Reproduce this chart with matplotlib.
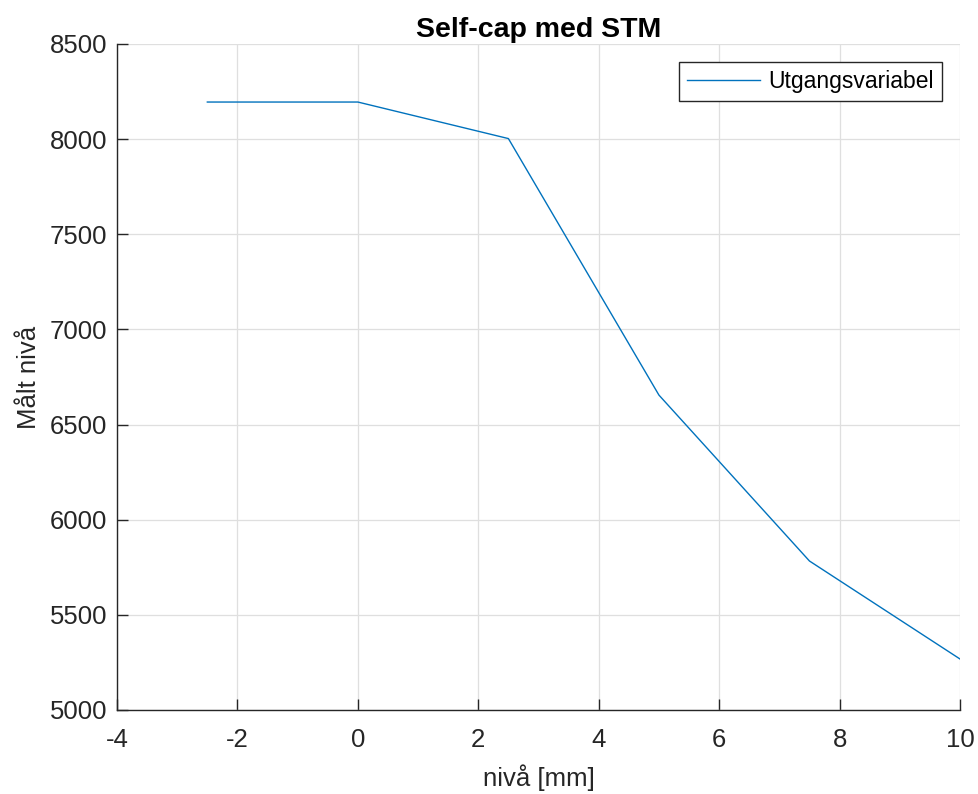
import matplotlib.pyplot as plt

plt.rcParams['font.family'] = ['Liberation Sans', 'DejaVu Sans']

# data
niva_mm = [-2.5, 0, 2.5, 5, 7.5, 10]
malt_niva = [8195, 8195, 8003, 6655, 5783, 5268]
x_ticks = [-4, -2, 0, 2, 4, 6, 8, 10]
y_ticks = [5000, 5500, 6000, 6500, 7000, 7500, 8000, 8500]

ax_col = '#262626'

fig = plt.figure(figsize=(9.79, 7.94), dpi=100)
ax = fig.add_axes([117 / 979, 1 - 710 / 794, (960 - 117) / 979, (710 - 44) / 794])

ax.plot(niva_mm, malt_niva, color='#0072BD', linewidth=1.0, label='Utgangsvariabel')

ax.set_xlim(-4, 10)
ax.set_ylim(5000, 8500)
ax.set_xticks(x_ticks)
ax.set_yticks(y_ticks)
ax.set_xticklabels([str(t) for t in x_ticks])
ax.grid(True, color='#dfdfdf', linewidth=0.9)
ax.set_axisbelow(True)

for s in ['top', 'right']:
    ax.spines[s].set_visible(False)
for s in ['left', 'bottom']:
    ax.spines[s].set_color(ax_col)
    ax.spines[s].set_linewidth(1.0)
ax.tick_params(direction='in', length=8, width=1.0, colors=ax_col, labelsize=18.5)
ax.tick_params(axis='x', pad=13)
ax.tick_params(axis='y', pad=7)

ax.set_title('Self-cap med STM', fontsize=20.5, fontweight='bold', color='black', pad=5)
ax.set_xlabel('nivå [mm]', fontsize=18.5, color=ax_col, labelpad=9)
ax.set_ylabel('Målt nivå', fontsize=18.5, color=ax_col, labelpad=6)

leg = ax.legend(loc='upper right', fontsize=16.5, frameon=True, fancybox=False,
                edgecolor=ax_col, framealpha=1, handlelength=3.2, borderpad=0.35,
                borderaxespad=0.8, handletextpad=0.35)
leg.get_frame().set_linewidth(1.0)

fig.savefig('out.png', dpi=100)
